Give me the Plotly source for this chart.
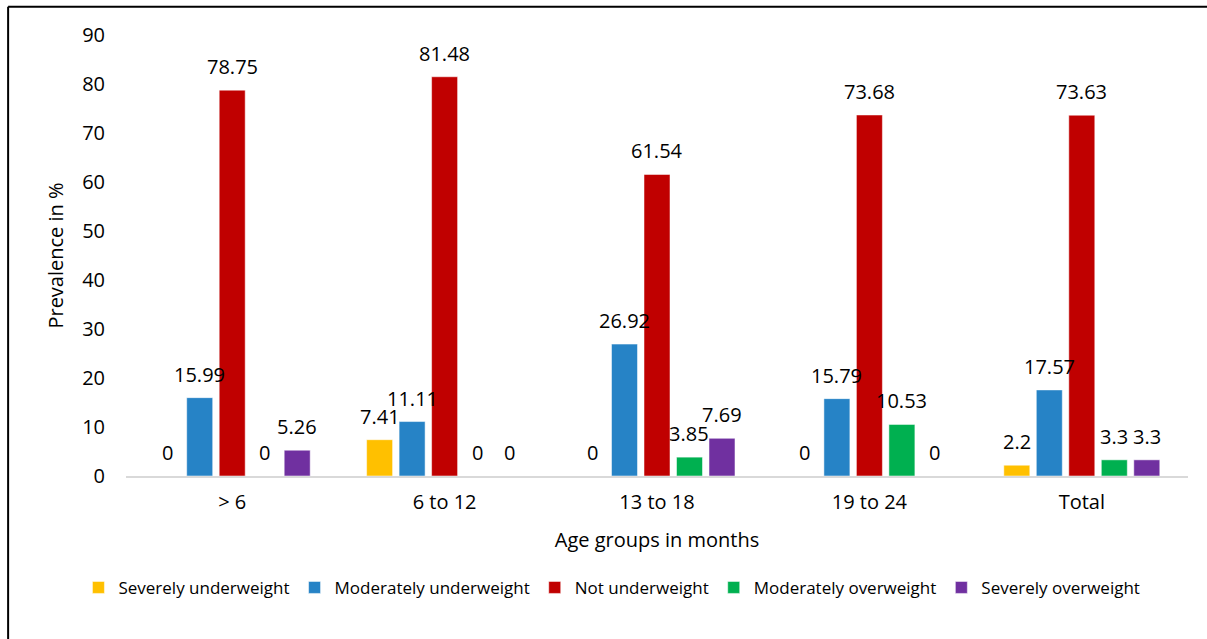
import plotly.graph_objects as go

age_groups = ["> 6", "6 to 12", "13 to 18", "19 to 24", "Total"]
series_names = ["Severely underweight", "Moderately underweight", "Not underweight",
                "Moderately overweight", "Severely overweight"]
severely_underweight = [0, 7.41, 0, 0, 2.2]
moderately_underweight = [15.99, 11.11, 26.92, 15.79, 17.57]
not_underweight = [78.75, 81.48, 61.54, 73.68, 73.63]
moderately_overweight = [0, 0, 3.85, 10.53, 3.3]
severely_overweight = [5.26, 0, 7.69, 0, 3.3]
colors = ["#FFC000", "#2683C6", "#C00000", "#00B050", "#7030A0"]
y_ticks = list(range(0, 100, 10))

FONT = "Open Sans"
W, H = 1207, 639
ML, MR, MT, MB = 126, 19, 35, 163
BARGAP = 0.235

all_series = [severely_underweight, moderately_underweight, not_underweight,
              moderately_overweight, severely_overweight]

fig = go.Figure()
for name, vals, col in zip(series_names, all_series, colors):
    fig.add_trace(go.Bar(
        name=name, x=age_groups, y=vals,
        marker=dict(color=col, line=dict(color="rgba(255,255,255,0.5)", width=1)),
        cliponaxis=False,
    ))

# value labels above each bar, offset to the bar's slot within its group
cat_px = (W - ML - MR) / len(age_groups)
slot_px = cat_px * (1 - BARGAP) / len(all_series)
for i, vals in enumerate(all_series):
    shift = (i - (len(all_series) - 1) / 2) * slot_px
    for cat, v in zip(age_groups, vals):
        fig.add_annotation(x=cat, y=v, text=f"{v:g}", showarrow=False,
                           xshift=shift, yshift=8, yanchor="bottom",
                           font=dict(family=FONT, size=20, color="#000000"))

fig.update_layout(
    width=W, height=H,
    paper_bgcolor="white", plot_bgcolor="white",
    margin=dict(l=ML, r=MR, t=MT, b=MB, autoexpand=False),
    barmode="group", bargap=BARGAP, bargroupgap=0.2,
    font=dict(family=FONT, size=20, color="#000000"),
    showlegend=True,
    legend=dict(orientation="h", xref="container", x=0.507, xanchor="center",
                yref="container", y=0.08, yanchor="middle",
                font=dict(family=FONT, size=17, color="#000000"),
                itemwidth=30, tracegroupgap=0),
    xaxis=dict(showline=True, linecolor="#D9D9D9", linewidth=2, ticks="",
               showgrid=False, zeroline=False, ticklabelstandoff=7,
               title=dict(text="Age groups in months", font=dict(size=20), standoff=19),
               tickfont=dict(size=20)),
    yaxis=dict(range=[0, 90], tickvals=y_ticks, showgrid=False, zeroline=False,
               showline=False, ticks="", ticklabelstandoff=20,
               title=dict(text="Prevalence in %", font=dict(size=20), standoff=13),
               tickfont=dict(size=20)),
)
# outer frame: left and top edges of the figure box
fig.add_shape(type="line", xref="paper", yref="paper", x0=-0.111, x1=1.03, y0=1.064, y1=1.064,
              line=dict(color="black", width=2))
fig.add_shape(type="line", xref="paper", yref="paper", x0=-0.111, x1=-0.111, y0=1.064, y1=-0.40,
              line=dict(color="black", width=2))

fig.write_html("out.html")
